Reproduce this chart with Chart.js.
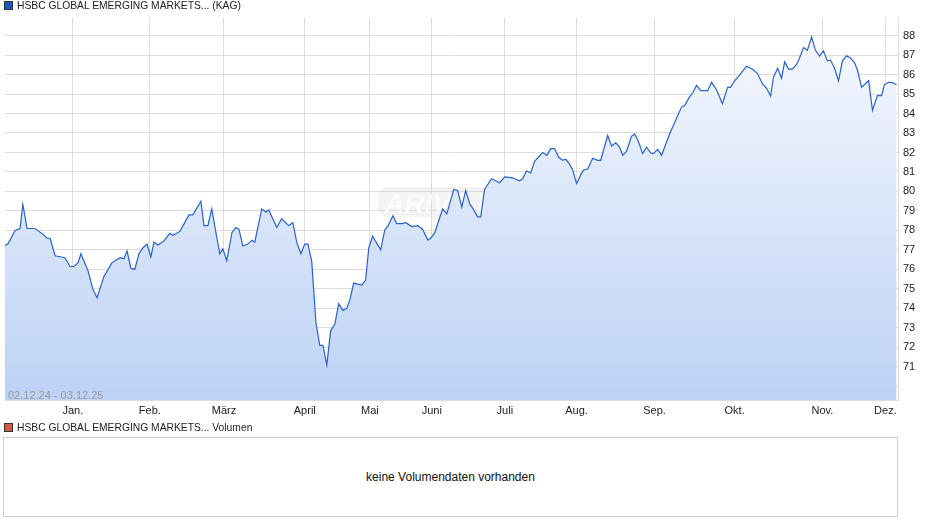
<!DOCTYPE html>
<html><head><meta charset="utf-8">
<script src="https://cdn.jsdelivr.net/npm/chart.js@4"></script>
<style>
body{margin:0;width:940px;height:526px;background:#fff;font-family:"Liberation Sans",Arial,sans-serif;position:relative;overflow:hidden}
.hdr{position:absolute;left:4px;font-size:10.3px;color:#222;display:flex;align-items:center}
.sq{width:7px;height:7px;margin-right:4px;border:1px solid #333}
#c{position:absolute;left:0;top:0}
.box{position:absolute;left:3px;top:437px;width:895px;height:80px;border:1px solid #ccc;box-sizing:border-box;display:flex;align-items:center;justify-content:center;font-size:12px;color:#111}
.dt{position:absolute;left:8px;top:389px;font-size:11px;color:#9a9a9a}
</style></head><body>
<canvas id="c" width="940" height="420"></canvas>
<div class="hdr" style="top:0px"><span class="sq" style="background:#1f55b8"></span>HSBC GLOBAL EMERGING MARKETS... (KAG)</div>
<div class="dt">02.12.24 - 03.12.25</div>
<div class="hdr" style="top:422px"><span class="sq" style="background:#d9574a"></span>HSBC GLOBAL EMERGING MARKETS... Volumen</div>
<div class="box">keine Volumendaten vorhanden</div>
<script>
const tradingDay=[0,0.9,2.9,4.3,5.1,6.3,8.6,10.9,12,12.9,14.3,17.1,18.6,19.7,20.9,21.7,23.7,25.1,26.3,28.3,30.6,32.9,34,34.9,36,37.1,38.3,39.4,40.6,41.7,42.6,43.7,45.4,47.1,48,50,52.6,53.7,56,56.9,58,59.1,61.4,62.3,63.4,64.9,66,66.9,68,69.4,70.6,71.4,73.4,74.6,75.4,77.7,79.1,81.1,82.3,83.4,84.6,85.7,86.6,87.7,88.9,90,90.9,92,93.1,94.3,95.4,96.6,97.7,98.6,99.7,102,103.1,104,105.1,107.4,108.6,109.4,110.9,112,113.4,114.6,116.3,118,119.4,120.9,121.7,122.9,125.1,126.3,128.3,129.4,130.6,131.7,132.9,133.7,135.1,136,137.1,139.1,141.4,142.9,145.1,147.1,148,149.1,150.3,151.4,153.7,154.9,156,157.1,158.3,159.4,160.3,161.4,162.3,163.4,164.6,165.4,166.6,168,169.4,170.3,171.1,172.3,173.4,174.6,175.7,176.6,177.7,179.1,180,181.1,182.3,183.4,184.6,185.4,186.6,187.7,190,193.4,194.3,195.7,196.6,197.7,198.9,200.9,202,203.4,205.1,206.6,207.4,208.6,209.7,212,213.7,215.1,216.6,217.7,218.9,219.7,220.9,222,222.9,224,225.1,226.3,227.1,228.3,229.4,230.6,231.7,232.9,234,235.1,236,237.1,238.3,239.4,240.6,241.7,242.9,243.7,244.9,246.9,248,249.4,250.6,251.4,252.6,253.7,254.9];
const price=[77.23,77.33,78.0,78.1,79.33,78.1,78.1,77.8,77.6,77.6,76.7,76.6,76.15,76.15,76.35,76.8,75.95,75.0,74.55,75.65,76.35,76.6,76.55,76.95,76.05,76.0,76.8,77.1,77.3,76.65,77.4,77.25,77.45,77.85,77.75,77.95,78.8,78.8,79.5,78.25,78.25,79.1,76.8,77.05,76.45,77.9,78.15,78.05,77.2,77.3,77.5,77.4,79.1,78.95,79.05,78.15,78.6,78.25,78.4,77.4,76.8,77.3,77.3,76.4,73.25,72.1,72.1,71.1,72.85,73.2,74.25,73.9,74.0,74.45,75.3,75.2,75.45,77.1,77.7,77.0,78.05,78.2,78.75,78.35,78.35,78.4,78.2,78.25,78.05,77.5,77.6,77.9,79.1,78.85,80.1,80.05,79.2,80.05,79.35,79.15,78.7,78.7,80.1,80.65,80.45,80.75,80.7,80.55,80.65,81.05,80.95,81.55,82.0,81.85,82.2,82.2,81.75,81.6,81.65,81.4,81.1,80.4,80.85,81.1,81.15,81.7,81.6,81.6,82.1,82.87,82.33,82.5,82.28,81.85,82.07,82.83,82.95,82.56,81.94,82.28,81.97,81.94,82.16,81.85,82.95,84.33,84.41,84.85,85.05,85.44,85.17,85.17,85.6,85.22,84.5,85.34,85.34,85.68,85.9,86.43,86.27,86.06,85.5,85.3,84.89,85.86,86.32,85.81,86.65,86.28,86.28,86.52,86.82,87.38,87.24,87.92,87.24,86.94,87.21,86.7,86.74,86.35,85.68,86.7,86.96,86.85,86.6,86.23,85.34,85.69,84.16,84.92,84.92,85.47,85.6,85.59,85.47];
const monthLabels=["Jan.","Feb.","März","April","Mai","Juni","Juli","Aug.","Sep.","Okt.","Nov.","Dez."];
const monthStarts=[19.4,41.4,62.6,85.7,104.3,122,142.9,163.4,185.7,208.6,233.7,251.7];
const yTicks=[71,72,73,74,75,76,77,78,79,80,81,82,83,84,85,86,87,88];
const pts=tradingDay.map((d,i)=>({x:d,y:price[i]}));
const wm={id:'wm',beforeDatasetsDraw(ch){const c=ch.ctx;c.save();c.fillStyle='rgba(215,215,215,0.3)';c.beginPath();c.roundRect(378,187,146,30,10);c.fill();c.font='bold italic 28px "Liberation Sans"';c.fillStyle='rgba(255,255,255,0.7)';c.textAlign='center';c.fillText('ARIVA.DE',450,213);c.restore();}};
new Chart(document.getElementById('c'),{type:'line',
data:{datasets:[{data:pts,borderColor:'#2a62c9',borderWidth:1.2,pointRadius:0,tension:0,fill:'start',
backgroundColor:(ctx)=>{const a=ctx.chart.chartArea;if(!a)return '#dfe9fb';const g=ctx.chart.ctx.createLinearGradient(0,a.top,0,a.bottom);g.addColorStop(0,'#f8fafe');g.addColorStop(1,'#bcd2f5');return g;}}]},
options:{responsive:false,animation:false,events:[],layout:{padding:{left:5,top:18,right:0,bottom:0}},
plugins:{legend:{display:false},tooltip:{enabled:false}},
scales:{
x:{type:'linear',min:0,max:255.3,afterBuildTicks(s){s.ticks=monthStarts.map(v=>({value:v}));},
afterFit(s){s.height=20;},grid:{color:'#dcdcdc',drawTicks:false},border:{color:'#dcdcdc'},
ticks:{padding:4,color:'#222',font:{size:11,family:'Liberation Sans'},maxRotation:0,autoSkip:false,callback:(v,i)=>monthLabels[i]}},
y:{position:'right',min:69.3,max:88.9,afterBuildTicks(s){s.ticks=[70].concat(yTicks).map(v=>({value:v}));},
afterFit(s){s.width=42;},grid:{color:'#dcdcdc',drawTicks:false},border:{color:'#dcdcdc'},
ticks:{padding:5,color:'#222',font:{size:11,family:'Liberation Sans'},callback:v=>v===70?'':v}}}},
plugins:[wm]});
</script></body></html>
